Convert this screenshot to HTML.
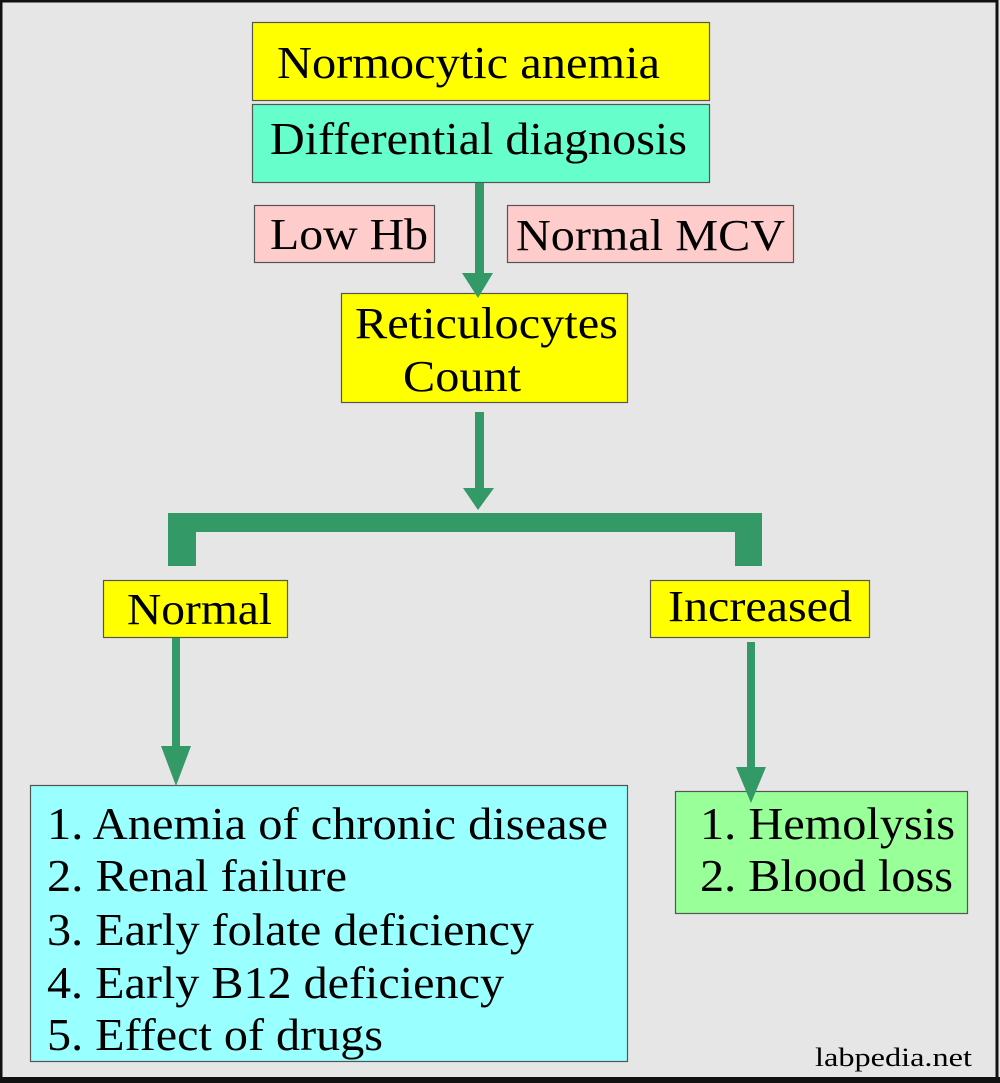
<!DOCTYPE html>
<html><head><meta charset="utf-8"><style>
html,body{margin:0;padding:0;background:#e6e6e6;}
svg{display:block}
text{font-family:"Liberation Serif","Times New Roman",serif;fill:#000;}
</style></head><body>
<svg width="1000" height="1083" viewBox="0 0 1000 1083" xmlns="http://www.w3.org/2000/svg">
<rect x="0" y="0" width="1000" height="1083" fill="#e6e6e6"/>
<rect x="1" y="1" width="996" height="1078" fill="none" stroke="#111" stroke-width="3"/>
<rect x="0" y="1077" width="1000" height="6" fill="#111"/>

<g stroke="#555" stroke-width="1.2">
<rect x="252.5" y="22.5" width="457" height="78" fill="#ffff00"/>
<rect x="252.5" y="104.5" width="457" height="78" fill="#66ffcc"/>
<rect x="254.5" y="205.5" width="180" height="57" fill="#ffcccc"/>
<rect x="507.5" y="205.5" width="286" height="57" fill="#ffcccc"/>
<rect x="341.5" y="293.5" width="286" height="109" fill="#ffff00"/>
<rect x="103.5" y="580.5" width="184" height="57" fill="#ffff00"/>
<rect x="650.5" y="580.5" width="219" height="57" fill="#ffff00"/>
<rect x="30.5" y="785.5" width="597" height="276" fill="#99ffff"/>
<rect x="675.5" y="791.5" width="292" height="122" fill="#99ff99"/>
</g>

<g fill="#339966">
<rect x="475" y="183" width="9" height="92"/>
<polygon points="462,273 493,273 478,298"/>
<rect x="475" y="412" width="9" height="78"/>
<polygon points="463,488 494,488 478,510"/>
<path d="M168,513 H762 V566 H735 V532 H196 V566 H168 Z"/>
<rect x="172" y="638" width="8" height="110"/>
<polygon points="161,746 191,746 176,786"/>
<rect x="747" y="642" width="8" height="127"/>
<polygon points="736,767 766,767 751,803"/>
</g>

<g font-size="46">
<text x="277" y="78" textLength="383" lengthAdjust="spacingAndGlyphs">Normocytic anemia</text>
<text x="270" y="154" textLength="417" lengthAdjust="spacingAndGlyphs">Differential diagnosis</text>
<text x="270" y="249" textLength="158" lengthAdjust="spacingAndGlyphs" font-size="44">Low Hb</text>
<text x="516" y="250" textLength="269" lengthAdjust="spacingAndGlyphs" font-size="44">Normal MCV</text>
<text x="355" y="338" textLength="263" lengthAdjust="spacingAndGlyphs" font-size="44">Reticulocytes</text>
<text x="403" y="391" textLength="118" lengthAdjust="spacingAndGlyphs" font-size="44">Count</text>
<text x="127" y="624" textLength="145" lengthAdjust="spacingAndGlyphs" font-size="44">Normal</text>
<text x="668" y="621" textLength="184" lengthAdjust="spacingAndGlyphs" font-size="44">Increased</text>
<text x="47" y="839" textLength="561" lengthAdjust="spacingAndGlyphs">1. Anemia of chronic disease</text>
<text x="47" y="891" textLength="300" lengthAdjust="spacingAndGlyphs">2. Renal failure</text>
<text x="47" y="945" textLength="487" lengthAdjust="spacingAndGlyphs">3. Early folate deficiency</text>
<text x="47" y="998" textLength="457" lengthAdjust="spacingAndGlyphs">4. Early B12 deficiency</text>
<text x="47" y="1050" textLength="336" lengthAdjust="spacingAndGlyphs">5. Effect of drugs</text>
<text x="700" y="839" textLength="255" lengthAdjust="spacingAndGlyphs">1. Hemolysis</text>
<text x="700" y="891" textLength="253" lengthAdjust="spacingAndGlyphs">2. Blood loss</text>
</g>
<text x="815" y="1066" font-size="26" textLength="157" lengthAdjust="spacingAndGlyphs" fill="#111">labpedia.net</text>
</svg>
</body></html>
